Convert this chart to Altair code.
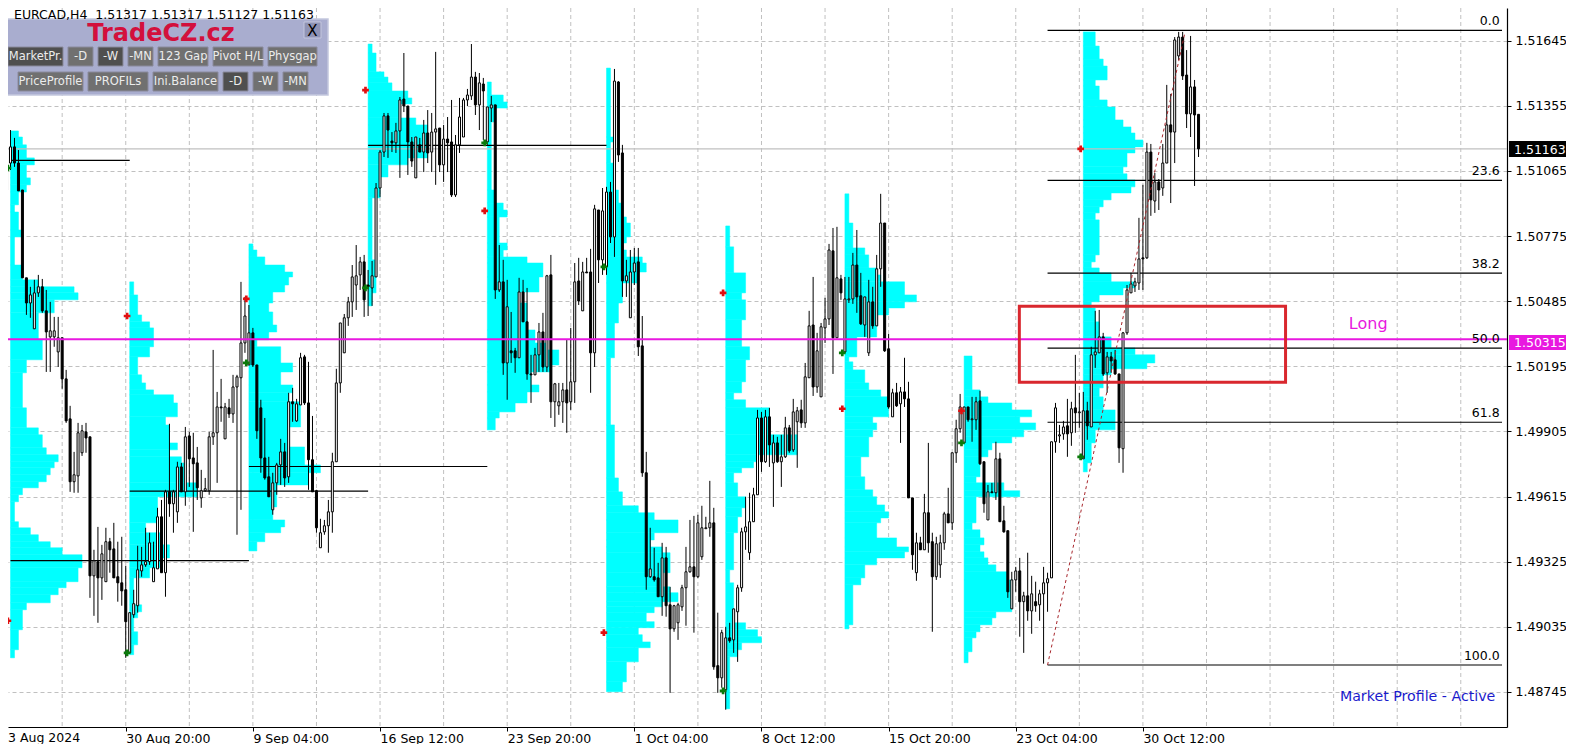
import altair as alt
import pandas as pd

# Prices are stored as points above 1.48000 (1 point = 0.00001)
high_pts = [
3247,3247,3212,3158,2980,2589,2549,2580,2602,2584,
2535,2482,2415,2415,2322,2179,2019,1814,1943,1934,
1943,1881,1378,1480,1400,1476,1431,1498,1414,1436,
1307,1098,1200,1396,1391,1476,1454,1414,1565,1600,
1645,1939,1645,1770,1765,1925,1903,1899,1836,1734,
1698,1903,2268,2081,2139,2032,2050,2157,2157,2571,
2504,2468,2366,2201,2046,1965,1792,1721,1765,1872,
1854,2077,2099,2050,2255,2246,2215,1974,1645,1516,
1511,1600,1810,2184,2388,2428,2504,2646,2735,2682,
2691,2624,2664,3011,3158,3323,3323,3238,3279,3394,
3590,3354,3216,3216,3212,3292,3336,3323,3595,3256,
3270,3305,3381,3225,3390,3390,3430,3630,3506,3501,
3479,3350,3399,3359,2735,2669,2580,2437,2277,2589,
2580,2544,2246,2277,2388,2433,2602,2691,2121,2121,
2121,2313,2366,2655,2678,2660,2678,2718,2914,2891,
2989,2994,3016,3519,3465,3181,2669,2713,2722,2722,
2419,1814,1476,1387,1320,1409,1391,1213,1133,1142,
1222,1391,1511,1529,1534,1574,1525,1685,1565,1098,
1022,1035,1053,1115,1222,1476,1614,1632,1654,2001,
1992,2001,2010,1890,1881,1890,1970,1934,2050,2014,
2046,2210,2442,2593,2344,2388,2500,2740,2811,2816,
2602,2593,2593,2700,2802,2611,2504,2580,2549,2691,
2963,2833,2339,2095,2121,2103,2233,2126,1609,1454,
1436,1627,1854,1454,1436,1445,1547,1654,1810,1957,
2072,2014,2014,2059,2059,2086,1770,1667,1676,1859,
1810,1574,1463,1280,1302,1342,1191,1365,1262,1236,
1200,1302,1276,1859,2032,1934,1952,2050,2037,2246,
2077,2081,2037,2282,2442,2446,2344,2259,2259,2268,
2161,2348,2557,2611,2589,2856,3003,3190,3185,3056,
3029,3185,3448,3408,3661,3684,3684,3603,3666,3470,
3317]
low_pts = [
2980,3069,3083,2976,2589,2424,2411,2362,2504,2433,
2170,2170,2282,2192,2095,1943,1636,1632,1632,1796,
1810,1164,1084,1053,1155,1236,1276,1253,1147,1129,
897,919,1075,1098,1258,1302,1311,1236,1293,1276,
1169,1525,1454,1498,1636,1574,1658,1458,1600,1565,
1636,1623,1845,1676,1948,1872,1965,1943,1445,1556,
2255,2201,2192,1872,1721,1690,1614,1534,1623,1667,
1658,1676,1948,1948,2023,2023,1645,1636,1454,1387,
1445,1365,1454,1770,2077,2255,2375,2415,2446,2535,
2415,2419,2464,2593,2949,3127,3123,3149,3145,3034,
3327,3047,3083,3034,3149,3060,3100,3060,3003,3060,
3016,3060,2949,2949,3145,3216,3354,3381,3314,3247,
3203,3181,3283,2495,2526,2157,2046,2210,2166,2233,
2393,2135,2032,2157,2170,2170,2170,1965,1925,1979,
1943,1899,2001,2032,2468,2442,2611,2077,2192,2566,
2602,2602,2744,2682,3105,2504,2504,2411,2557,2241,
1703,1200,1253,1236,1169,1084,1080,741,1013,977,
1106,1040,1276,1009,1253,1333,1472,1436,844,741,
764,666,964,919,879,1191,1378,1333,1503,1623,
1725,1765,1747,1569,1765,1658,1787,1810,1814,1743,
1921,1921,2144,2063,2077,2059,2299,2379,2161,2322,
2491,2255,2477,2473,2433,2379,2326,2241,2362,2375,
2549,2259,2006,1970,2014,1854,2014,1609,1289,1240,
1378,1378,1365,1013,1244,1253,1378,1498,1467,1765,
1899,1854,1948,1859,1912,1756,1543,1511,1632,1600,
1503,1454,1164,1115,1191,991,919,1062,1004,1102,
1062,871,1102,1253,1810,1854,1868,1792,1841,1899,
1921,1783,1868,1925,2188,2255,2152,2077,2166,2157,
1765,1721,2335,2522,2526,2535,2535,2673,2865,2878,
2891,2954,3100,2922,3100,3559,3470,3256,3216,2998,
3127]
open_pts = [
2980,3100,3172,3100,2980,2589,2477,2362,2522,2549,
2442,2326,2326,2259,2322,2139,1961,1681,1707,1810,
1903,1881,1262,1325,1253,1236,1414,1382,1258,1231,
1200,919,1089,1129,1284,1311,1325,1236,1293,1525,
1276,1636,1583,1547,1747,1636,1885,1787,1765,1609,
1641,1641,1881,1899,2014,1872,2010,1983,2103,2144,
2299,2201,2344,2201,2010,1787,1703,1556,1676,1756,
1814,1703,2037,1952,2023,2237,2032,1779,1641,1387,
1458,1485,1547,1770,2121,2255,2411,2482,2557,2602,
2660,2557,2544,2593,2989,3149,3310,3198,3190,3243,
3385,3354,3194,3034,3181,3149,3234,3149,3238,3256,
3092,3207,3194,2958,3181,3216,3381,3399,3483,3359,
3452,3194,3345,3359,2535,2571,2210,2264,2264,2233,
2526,2393,2161,2157,2246,2348,2192,2602,2037,2019,
2037,2090,2037,2126,2575,2442,2615,2615,2255,2891,
2669,2638,2971,2771,3461,3145,2575,2411,2615,2660,
2286,1721,1258,1258,1253,1169,1342,1133,1026,1053,
1124,1209,1280,1302,1258,1347,1472,1476,1498,862,
808,755,986,977,1102,1209,1458,1365,1503,1623,
1965,1770,1970,1765,1854,1770,1792,1921,1823,1948,
2001,1943,2144,2379,2103,2059,2366,2406,2709,2322,
2584,2259,2491,2495,2646,2509,2379,2255,2482,2375,
2629,2833,2273,1970,2077,2028,2081,2050,1609,1276,
1409,1378,1543,1414,1258,1311,1409,1538,1498,1810,
1917,1854,2014,1957,1957,2041,1770,1511,1636,1632,
1783,1507,1463,1115,1244,1284,1147,1173,1106,1147,
1133,1182,1231,1253,1859,1885,1894,1930,1899,2010,
1988,1783,1997,1925,2246,2255,2326,2166,2237,2224,
2161,1828,2344,2522,2553,2566,2678,2678,3149,2931,
3016,2989,3100,3270,3238,3577,3661,3492,3319,3439,
3317]
close_pts = [
3172,3172,3100,2976,2589,2477,2513,2522,2549,2442,
2348,2353,2353,2322,2139,1952,1681,1712,1899,1908,
1876,1262,1329,1253,1360,1414,1378,1253,1231,1195,
1058,1098,1138,1289,1311,1325,1409,1298,1525,1276,
1636,1583,1636,1747,1636,1881,1783,1761,1654,1641,
1650,1881,1899,2014,2010,2014,1983,2103,2148,2299,
2419,2344,2201,1908,1787,1698,1614,1676,1756,1814,
1698,2037,2028,2028,2233,2032,1779,1636,1476,1454,
1485,1547,1770,2121,2388,2411,2482,2593,2598,2660,
2491,2549,2598,2989,3149,3310,3247,3190,3243,3381,
3354,3194,3109,3216,3149,3234,3145,3238,3252,3092,
3207,3190,2958,3181,3305,3381,3403,3483,3359,3457,
3421,3350,3359,2535,2571,2210,2460,2255,2233,2526,
2393,2161,2157,2246,2348,2192,2598,2037,2117,2037,
2090,2032,2126,2571,2486,2615,2611,2255,2896,2669,
2887,2971,2771,3465,3136,2575,2598,2615,2655,2282,
1721,1258,1293,1244,1169,1342,1129,1026,1129,1133,
1209,1280,1302,1258,1498,1476,1476,1498,857,808,
1009,986,973,1115,1209,1458,1480,1503,1623,1965,
1770,1970,1845,1854,1770,1792,1921,1819,1992,1997,
1943,2148,2375,2103,2264,2371,2406,2713,2322,2589,
2522,2495,2495,2646,2504,2384,2504,2482,2375,2629,
2833,2264,2014,2077,2019,2081,2050,1609,1356,1409,
1378,1543,1409,1258,1405,1409,1538,1498,1810,1917,
2014,2014,1957,1961,2037,1761,1583,1636,1632,1783,
1503,1458,1191,1244,1284,1147,1173,1106,1182,1129,
1182,1231,1249,1859,2010,1890,1925,1894,2006,1988,
1992,1997,1930,2246,2259,2326,2161,2237,2219,2161,
1832,2344,2535,2562,2571,2673,2673,3149,2936,3016,
2980,3100,3270,3238,3648,3661,3488,3319,3439,3314,
3163]

# Market-profile histograms: bar index of the start, price of each level's top
# (last entry = bottom of the histogram), TPO count per level
profile_start = [1, 31, 61, 91, 121, 151, 181, 211, 241, 271]
profile_levels = [
 [3243,3216,3181,3123,3092,3034,3003,2971,2914,2882,2802,2771,2646,2580,2549,2522,2491,2433,2313,2224,2166,2010,1921,1890,1832,1801,1770,1743,1712,1681,1654,1623,1592,1503,1476,1445,1414,1387,1356,1298,1236,1209,1178,1142,1111,1022,933,897],
 [2571,2513,2424,2393,2366,2282,2237,2157,2121,2090,2068,2032,1970,1934,1854,1823,1792,1765,1676,1614,1498,1454,1400,1342,1298,1253,1133,1102,1075,1013,955,911],
 [2740,2713,2682,2646,2615,2593,2557,2526,2477,2437,2379,2348,2313,2282,2210,2170,2112,2077,2037,1925,1836,1756,1721,1667,1569,1511,1480,1454,1414,1373],
 [3630,3590,3506,3483,3457,3421,3390,3363,3301,3270,3123,3092,3038,2945,2669,2522,2464],
 [3461,3403,3372,3345,3283,2980,2922,2891,2860,2744,2713,2682,2655,2593,2526,2477,2357,2299,2268,2201,2170,2112,2081,2032,1992,1965,1912],
 [3523,3216,3194,3100,2980,2922,2860,2833,2771,2744,2713,2682,2655,2615,2566,2477,2388,2233,1934,1698,1636,1574,1543,1511,1454,1422,1391,1365,1276,1213,1187,1147,1124,1098,1058,1031,1000,968,942,879,790,746],
 [2820,2727,2611,2522,2491,2402,2282,2224,2126,2077,2046,2010,1890,1801,1770,1743,1721,1676,1614,1565,1525,1454,1289,1231,1053,1022,991,964,933,902,670],
 [2963,2833,2722,2691,2633,2602,2571,2513,2482,2455,2424,2326,2237,2215,2179,2121,2090,2059,1970,1943,1912,1881,1792,1703,1645,1614,1578,1547,1520,1498,1431,1391,1369,1342,1311,1253,1222,1044,1026],
 [2241,2090,2059,2032,2001,1970,1943,1912,1881,1854,1823,1792,1703,1676,1641,1614,1498,1467,1431,1400,1369,1342,1311,1280,1244,1102,1075,1044,1013,986,924,875],
 [3684,3621,3563,3532,3470,3443,3381,3350,3292,3261,3234,3203,3172,3145,3083,3052,3025,2994,2967,2936,2905,2878,2847,2691,2660,2633,2611,2571,2544,2513,2482,2455,2393,2326,2277,2246,2210,2184,2157,2099,2059,2001,1912,1854,1765,1725],
]
profile_counts = [
 [2,3,4,6,4,5,4,2,1,2,3,1,3,7,16,17,11,7,8,4,3,4,7,8,9,12,11,10,9,7,3,2,1,2,5,7,10,13,18,17,14,12,10,4,3,2,1],
 [1,2,3,5,6,5,2,3,4,6,11,12,9,10,12,10,13,14,17,7,4,8,10,8,5,1,3,2,1,2,1],
 [1,2,4,9,11,10,9,6,5,6,7,5,2,8,11,8,11,10,13,10,14,18,15,7,6,9,8,4,2],
 [1,2,4,5,6,10,11,8,12,15,10,5,3,1,2,1],
 [1,4,5,2,1,2,4,5,3,5,4,10,14,13,8,10,12,15,18,16,11,13,10,7,3,2],
 [1,2,1,2,3,4,5,6,5,4,5,9,10,8,4,3,2,1,2,3,4,8,12,18,12,11,14,16,14,16,18,14,12,10,12,8,9,11,8,5,4],
 [1,2,5,4,5,4,6,5,4,2,5,11,18,8,7,4,2,3,5,4,3,2,1,2,5,8,9,4,3,1],
 [1,2,5,6,8,9,15,18,15,11,8,3,1,2,5,6,9,11,7,8,7,6,4,5,7,8,10,11,9,8,13,16,15,8,5,4,2,1],
 [2,4,6,12,17,14,18,15,12,7,6,4,3,10,14,3,2,4,5,4,5,6,8,11,12,8,7,4,3,2,1],
 [3,4,5,6,3,4,6,8,10,12,13,15,13,11,10,11,13,12,7,5,4,3,4,3,2,4,7,13,10,4,2,3,4,7,13,18,16,7,5,4,5,8,3,2,1],
]

# Point-of-control lines: first bar, last bar, level
poc_first = [1, 1, 31, 61, 91]
poc_last = [31, 61, 91, 121, 151]
poc_level = [3112, 1330, 1639, 1749, 3179]

# Session markers
red_bar = [0.34, 30.34, 60.34, 90.34, 120.34, 150.34, 180.34, 210.34, 240.34, 270.34]
red_level = [1062, 2419, 2495, 3425, 2887, 1009, 2522, 2006, 1997, 3163]
green_bar = [0.34, 30.34, 60.34, 90.34, 120.34, 150.34, 180.34, 210.34, 240.34, 270.34]
green_level = [3078, 919, 2210, 2544, 3190, 2638, 750, 2255, 1854, 1792]

# Fibonacci retracement
fib_names = ["0.0", "23.6", "38.2", "50.0", "61.8", "100.0"]
fib_level = [3691, 3023, 2610, 2276, 1946, 865]
fib_first = 262
trend_bar = [262, 296.6]
trend_level = [865, 3683]

# Axis
price_ticks = [1.51645, 1.51355, 1.51065, 1.50775, 1.50485, 1.50195, 1.49905, 1.49615, 1.49325, 1.49035, 1.48745]
date_bars = [30, 62, 94, 126, 158, 190, 222, 254, 286]
date_labels = ["30 Aug 20:00", "9 Sep 04:00", "16 Sep 12:00", "23 Sep 20:00", "1 Oct 04:00",
               "8 Oct 12:00", "15 Oct 20:00", "23 Oct 04:00", "30 Oct 12:00"]
grid_bars = list(range(14, 367, 16))
BID = 1.51163
LINE = 1.50315

FONT = "DejaVu Sans"
W, H = 1499, 719
XMIN, XMAX = 1.625, 376.375
xs = alt.Scale(domain=[XMIN, XMAX], nice=False, zero=False)
ys = alt.Scale(domain=[1.48589, 1.517904], nice=False, zero=False)
def P(v):
    return 1.48 + v / 1e5

candles = pd.DataFrame({
    "i": range(len(high_pts)),
    "high": [P(v) for v in high_pts], "low": [P(v) for v in low_pts],
    "open": [P(v) for v in open_pts], "close": [P(v) for v in close_pts],
})
candles["body"] = ["white" if c > o else "black" for o, c in zip(open_pts, close_pts)]

rows = []
for s, lv, ct in zip(profile_start, profile_levels, profile_counts):
    for k, c in enumerate(ct):
        rows.append({"x": s, "x2": s + c, "y": P(lv[k]), "y2": P(lv[k + 1])})
profile = pd.DataFrame(rows)

date_expr = "{" + ",".join(f'"{b}":"{t}"' for b, t in zip(date_bars, date_labels)) + "}[datum.value]"

AX = alt.Axis(orient="bottom", values=date_bars, labelExpr=date_expr, grid=False, labelAlign="left",
              labelFont=FONT, labelFontSize=12.5, labelColor="black", labelPadding=1, labelFlush=False,
              labelOverlap=False, labelBound=False, tickColor="black", tickSize=4, tickWidth=1,
              domainColor="black", domainWidth=1.2)
AY = alt.Axis(orient="right", values=price_ticks, format=".5f", grid=True, gridColor="#c0c0c0",
              gridDash=[4, 3], gridWidth=1, labelFont=FONT, labelFontSize=12.5, labelColor="black",
              labelPadding=4, labelOverlap=False, labelBound=False, tickColor="black", tickSize=4,
              tickWidth=1, domainColor="black", domainWidth=1.2)
X = lambda f="x": alt.X(f"{f}:Q", scale=xs, axis=AX, title=None)
Y = lambda f="y": alt.Y(f"{f}:Q", scale=ys, axis=AY, title=None)

vgrid = alt.Chart(pd.DataFrame({"x": grid_bars})).mark_rule(color="#c0c0c0", strokeDash=[4, 3], strokeWidth=1).encode(x=X())
prof = alt.Chart(profile).mark_rect(color="#00ffff", stroke="#00ffff", strokeWidth=0.5).encode(x=X(), x2="x2:Q", y=Y(), y2="y2:Q")
bidline = alt.Chart(pd.DataFrame({"y": [BID]})).mark_rule(color="#c0c0c0", strokeWidth=1.2).encode(y=Y())
poc = alt.Chart(pd.DataFrame({"x": poc_first, "x2": poc_last, "y": [P(v) for v in poc_level]})).mark_rule(
    color="black", strokeWidth=1.2).encode(x=X(), x2="x2:Q", y=Y())
fib = alt.Chart(pd.DataFrame({"x": [fib_first] * 6, "x2": [XMAX] * 6, "y": [P(v) for v in fib_level]})).mark_rule(
    color="black", strokeWidth=1.2).encode(x=X(), x2="x2:Q", y=Y())
wick = alt.Chart(candles).mark_rule(color="black", strokeWidth=1).encode(x=X("i"), y=Y("high"), y2="low:Q")
body = alt.Chart(candles).mark_bar(size=2, stroke="black", strokeWidth=1, orient="vertical").encode(
    x=X("i"), y=Y("open"), y2="close:Q", fill=alt.Fill("body:N", scale=None))
trend = alt.Chart(pd.DataFrame({"x": trend_bar, "y": [P(v) for v in trend_level]})).mark_line(
    color="#a8262c", strokeDash=[3, 3], strokeWidth=1).encode(x=X(), y=Y())
reds = alt.Chart(pd.DataFrame({"x": red_bar, "y": [P(v) for v in red_level]})).mark_point(
    shape="cross", filled=True, color="#e01010", size=45, opacity=1).encode(x=X(), y=Y())
greens = alt.Chart(pd.DataFrame({"x": green_bar, "y": [P(v) for v in green_level]})).mark_point(
    shape="cross", filled=True, color="#0a7a0a", size=45, opacity=1).encode(x=X(), y=Y())
magenta = alt.Chart(pd.DataFrame({"y": [LINE]})).mark_rule(color="#e818e0", strokeWidth=2).encode(y=Y())
box = alt.Chart(pd.DataFrame({"x": [254.9], "x2": [321.9], "y": [P(2462)], "y2": [P(2124)]})).mark_rect(
    fillOpacity=0, stroke="#d9272e", strokeWidth=3).encode(x=X(), x2="x2:Q", y=Y(), y2="y2:Q")
fibtext = alt.Chart(pd.DataFrame({"x": [375.8] * 6, "y": [P(v) for v in fib_level], "t": fib_names})).mark_text(
    align="right", baseline="bottom", dy=-2, font=FONT, fontSize=12.5, color="black").encode(x=X(), y=Y(), text="t:N")
long_t = alt.Chart(pd.DataFrame({"x": [342.7], "y": [P(2384)], "t": ["Long"]})).mark_text(
    font=FONT, fontSize=16, color="#e818e0").encode(x=X(), y=Y(), text="t:N")
mp_t = alt.Chart(pd.DataFrame({"x": [374.7], "y": [P(724)], "t": ["Market Profile - Active"]})).mark_text(
    align="right", font=FONT, fontSize=14.2, color="#1a1acc").encode(x=X(), y=Y(), text="t:N")

one = alt.Data(values=[{"a": 1}])
def rect(x0, x1, y0, y1, fill, stroke=None, sw=1):
    kw = dict(fill=fill)
    if stroke:
        kw.update(stroke=stroke, strokeWidth=sw)
    return alt.Chart(one).mark_rect(**kw).encode(
        x=alt.value(x0 - 8), x2=alt.value(x1 - 8), y=alt.value(y0 - 8), y2=alt.value(y1 - 8))
def label(x, y, t, size=12.5, color="black", align="left", font=FONT, weight="normal"):
    return alt.Chart(one).mark_text(text=t, align=align, baseline="middle", fontSize=size, color=color,
                                    font=font, fontWeight=weight).encode(x=alt.value(x - 8), y=alt.value(y - 8))

extras = []
extras += [rect(1509, 1566, 141, 157, "black"), label(1514, 149.5, "1.51163", color="white")]
extras += [rect(1509, 1566, 335, 350, "#e818e0"), label(1514, 343, "1.50315", color="white")]
extras += [rect(0, 328, 19, 95, "#a9adcf", "#c4c7de", 1.5)]
extras += [label(161, 34, "TradeCZ.cz", size=24, color="#d3103c", align="center", weight="bold")]
extras += [rect(304, 22, 321, 38, "#8f93b5", "#c4c7de", 1) if False else rect(304, 321, 22, 38, "#8f93b5", "#c4c7de", 1),
           label(312.5, 31, "X", size=15, align="center")]
buttons = [
    (8, 63, 47, 66, "MarketPr.", True), (68, 93, 47, 66, "-D", False), (98, 123, 47, 66, "-W", True),
    (128, 153, 47, 66, "-MN", False), (158, 208, 47, 66, "123 Gap", False), (213, 263, 47, 66, "Pivot H/L", False),
    (268, 317, 47, 66, "Physgap", False), (18, 83, 72, 91, "PriceProfile", False), (88, 148, 72, 91, "PROFILs", False),
    (153, 218, 72, 91, "Ini.Balance", False), (223, 248, 72, 91, "-D", True), (253, 278, 72, 91, "-W", False),
    (283, 308, 72, 91, "-MN", False),
]
for x0, x1, y0, y1, t, dark in buttons:
    extras.append(rect(x0, x1, y0, y1, "#4f4f4f" if dark else "#707070", "#8a8a9c", 1))
    extras.append(label((x0 + x1) / 2, (y0 + y1) / 2, t, size=11.5, color="#ececec", align="center"))
extras += [label(14, 15, "EURCAD,H4\u00a0\u00a01.51317 1.51317 1.51127 1.51163", size=12.5)]
extras += [label(8, 738, "3 Aug 2024")]

chart = alt.layer(vgrid, prof, bidline, poc, fib, wick, body, trend, reds, greens, magenta, box, fibtext,
                  long_t, mp_t, *extras).properties(
    width=W, height=H,
    autosize=alt.AutoSizeParams(type="none"),
    padding={"left": 0, "top": 0, "right": 59, "bottom": 17},
    background="white",
).configure_view(stroke=None)

chart.save("out.html", embed_options={"renderer": "svg", "actions": False})
